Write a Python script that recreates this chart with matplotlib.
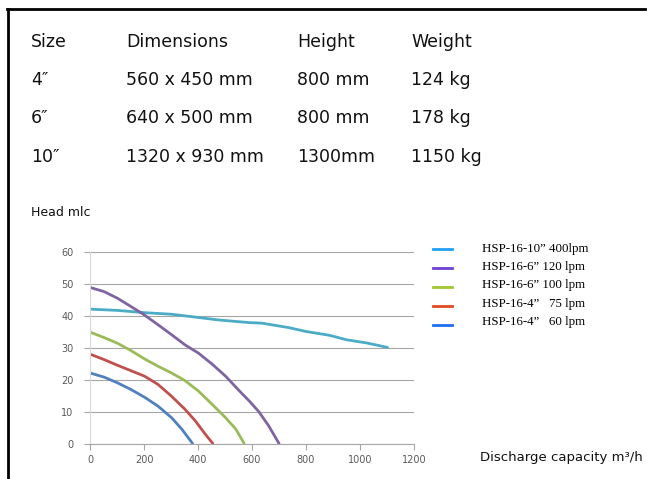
import matplotlib.pyplot as plt
from matplotlib.lines import Line2D
import numpy as np

# spec table
table_header = ['Size', 'Dimensions', 'Height', 'Weight']
table_rows = [
    ['4\u2033', '560 x 450 mm', '800 mm', '124 kg'],
    ['6\u2033', '640 x 500 mm', '800 mm', '178 kg'],
    ['10\u2033', '1320 x 930 mm', '1300mm', '1150 kg'],
]

# pump curves (discharge m3/h, head m)
q_10_400 = [0, 102, 200, 302, 390, 477, 587, 637, 737, 800, 887, 950, 1025, 1102]
h_10_400 = [42.1, 41.7, 41.0, 40.5, 39.6, 38.7, 37.9, 37.7, 36.3, 35.1, 33.9, 32.5, 31.5, 30.1]
q_6_120 = [0, 52, 102, 152, 196, 252, 302, 352, 402, 452, 502, 552, 590, 625, 662, 700]
h_6_120 = [48.9, 47.6, 45.5, 42.9, 40.6, 37.2, 34.1, 30.9, 28.3, 24.9, 21.1, 16.6, 13.3, 10.0, 5.5, 0.0]
q_6_100 = [0, 52, 102, 152, 202, 252, 302, 352, 402, 452, 502, 540, 571]
h_6_100 = [34.9, 33.2, 31.4, 29.1, 26.5, 24.2, 22.1, 19.7, 16.4, 12.3, 8.1, 4.5, 0.0]
q_4_75 = [0, 52, 102, 152, 202, 252, 302, 352, 390, 427, 455]
h_4_75 = [28.0, 26.3, 24.5, 22.8, 21.1, 18.5, 14.8, 10.7, 7.1, 2.9, 0.0]
q_4_60 = [0, 52, 102, 152, 202, 252, 302, 340, 380]
h_4_60 = [22.1, 20.8, 19.0, 16.9, 14.5, 11.7, 8.1, 4.5, 0.0]

series_labels = ['HSP-16-10\u201d 400lpm', 'HSP-16-6\u201d 120 lpm', 'HSP-16-6\u201d 100 lpm',
                 'HSP-16-4\u201d   75 lpm', 'HSP-16-4\u201d   60 lpm']
line_colors = ['#4BACC6', '#8064A2', '#9BBB59', '#C0504D', '#4F81BD']
legend_colors = ['#1FA0F0', '#7040D0', '#A0C830', '#E04C20', '#1E6EF0']

W, H = 647, 479
fig = plt.figure(figsize=(6.47, 4.79), dpi=100)

# border on top and left
fig.add_artist(Line2D([7 / W, 645 / W], [1 - 8.5 / H, 1 - 8.5 / H], color='black', lw=2))
fig.add_artist(Line2D([7.5 / W, 7.5 / W], [0, 1 - 8.5 / H], color='black', lw=2))

col_x = [31, 126, 297, 411]
row_y = [42, 80, 118, 157]
for r, row in enumerate([table_header] + table_rows):
    for c, txt in enumerate(row):
        fig.text(col_x[c] / W, 1 - row_y[r] / H, txt, fontsize=12.5, va='center', ha='left',
                 color='#111111', family='DejaVu Sans')

fig.text(31 / W, 1 - 212 / H, 'Head mlc', fontsize=9, va='center', ha='left', color='#111111')
fig.text(480 / W, 1 - 458 / H, 'Discharge capacity m\u00b3/h', fontsize=9.5, va='center', ha='left',
         color='#111111')

ax = fig.add_axes([90 / W, 1 - 443.5 / H, (414 - 90) / W, (443.5 - 252) / H])
series = [(q_10_400, h_10_400), (q_6_120, h_6_120), (q_6_100, h_6_100),
          (q_4_75, h_4_75), (q_4_60, h_4_60)]
for (q, h), col in zip(series, line_colors):
    ax.plot(q, h, color=col, lw=2, solid_capstyle='round', solid_joinstyle='round')

ax.set_xlim(0, 1200)
ax.set_ylim(0, 60)
ax.set_xticks(np.arange(0, 1201, 200))
ax.set_yticks(np.arange(0, 61, 10))
ax.grid(axis='y', color='#A6A6A6', lw=0.8)
ax.set_axisbelow(True)
for s in ['top', 'right']:
    ax.spines[s].set_visible(False)
ax.spines['left'].set_color('#D9D9D9')
ax.spines['bottom'].set_color('#A6A6A6')
ax.tick_params(axis='y', length=4, color='#A6A6A6', labelsize=7, labelcolor='#595959', pad=8)
ax.tick_params(axis='x', length=4, color='#A6A6A6', labelsize=7, labelcolor='#595959', pad=4)

# legend
leg_y = [249, 268, 287, 306, 325]
txt_y = [249, 267, 285, 304, 322]
for lab, col, ly, ty in zip(series_labels, legend_colors, leg_y, txt_y):
    fig.add_artist(Line2D([433 / W, 452 / W], [1 - ly / H, 1 - ly / H], color=col, lw=2))
    fig.text(482 / W, 1 - ty / H, lab, fontsize=9.3, family='Liberation Serif',
             va='center', ha='left', color='black')

fig.savefig('out.png', dpi=100)
